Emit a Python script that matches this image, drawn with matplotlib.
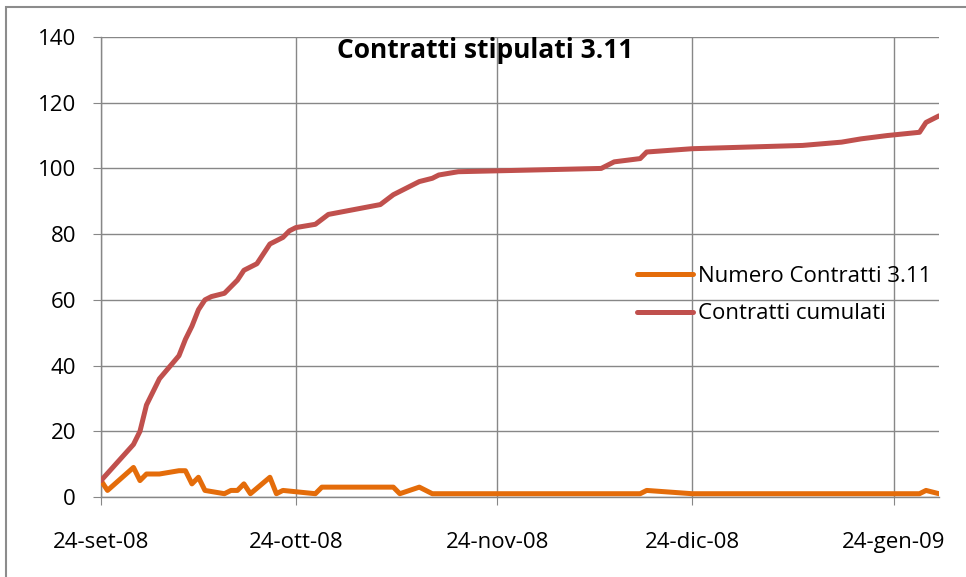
import numpy as np
import pandas as pd
import matplotlib
matplotlib.use("Agg")
import matplotlib.pyplot as plt
import matplotlib.patches as patches

# dati
start = "2008-09-24"
giorni_cum = [0, 5, 6, 7, 9, 12, 13, 14, 15, 16, 17, 19, 21, 22, 23, 24, 26, 27, 28, 29, 30,
              33, 35, 43, 45, 48, 49, 51, 52, 55, 77, 79, 83, 84, 91, 108, 114, 117, 121,
              126, 127, 129]
cumulati = [5, 16, 20, 28, 36, 43, 48, 52, 57, 60, 61, 62, 66, 69, 70, 71, 77, 78, 79, 81, 82,
            83, 86, 89, 92, 95, 96, 97, 98, 99, 100, 102, 103, 105, 106, 107, 108, 109, 110,
            111, 114, 116]

giorni_num = [0, 1, 5, 6, 7, 9, 12, 13, 14, 15, 16, 19, 20, 21, 22, 23, 26, 27, 28, 33, 34,
              44, 45, 46, 49, 51, 83, 84, 91, 126, 127, 129]
numero = [5, 2, 9, 5, 7, 7, 8, 8, 4, 6, 2, 1, 2, 2, 4, 1, 6, 1, 2, 1, 3,
          3, 3, 1, 3, 1, 1, 2, 1, 1, 2, 1]

tick_date = ["2008-09-24", "2008-10-24", "2008-11-24", "2008-12-24", "2009-01-24"]
tick_label = ["24-set-08", "24-ott-08", "24-nov-08", "24-dic-08", "24-gen-09"]
y_ticks = [0, 20, 40, 60, 80, 100, 120, 140]

t0 = pd.Timestamp(start)
x_cum = [t0 + pd.Timedelta(days=d) for d in giorni_cum]
x_num = [t0 + pd.Timedelta(days=d) for d in giorni_num]

plt.rcParams["font.family"] = ["Open Sans", "DejaVu Sans"]
grigio = "#878787"

fig = plt.figure(figsize=(9.66, 5.77), dpi=100)
ax = fig.add_axes([101/966, 1-497/577, 838/966, 460/577])

ax.plot(x_num, numero, color="#E46C0A", lw=3.6, label="Numero Contratti 3.11",
        solid_joinstyle="round", solid_capstyle="round", zorder=3)
ax.plot(x_cum, cumulati, color="#C0504D", lw=3.6, label="Contratti cumulati",
        solid_joinstyle="round", solid_capstyle="round", zorder=3)

ax.set_xlim(t0, t0 + pd.Timedelta(days=129))
ax.set_ylim(0, 140)
ax.set_yticks(y_ticks)
ax.set_xticks([pd.Timestamp(d) for d in tick_date])
ax.set_xticklabels(tick_label)

ax.grid(True, color=grigio, lw=1)
ax.set_axisbelow(True)
for s in ["top", "right"]:
    ax.spines[s].set_visible(False)
for s in ["left", "bottom"]:
    ax.spines[s].set_color(grigio)
    ax.spines[s].set_linewidth(1)
ax.tick_params(axis="y", direction="out", length=6, color=grigio, pad=12, labelsize=16)
ax.tick_params(axis="x", direction="out", length=6, color=grigio, pad=19, labelsize=16)

ax.legend(loc="center left", bbox_to_anchor=(0.6396, 0.439), frameon=False, fontsize=16,
          borderpad=0, borderaxespad=0, handlelength=2.5, handletextpad=0.25, labelspacing=0.75)

fig.text(485/966, 1-50/577, "Contratti stipulati 3.11", ha="center", va="center",
         fontsize=19, fontweight="bold")

# cornice del grafico
fig.patches.append(patches.Rectangle((6/966, -0.1), 2, 1.1-7/577, transform=fig.transFigure,
                                     fill=False, edgecolor="#8c8c8c", lw=1.5))

fig.savefig("out.png", dpi=100)
